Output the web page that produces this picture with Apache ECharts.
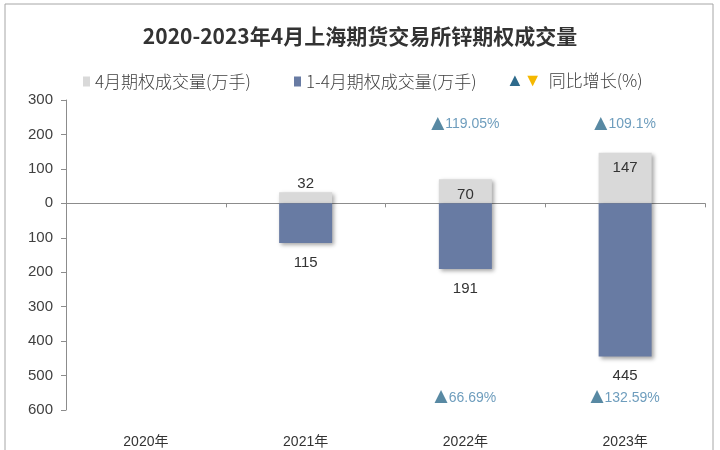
<!DOCTYPE html>
<html>
<head>
<meta charset="utf-8">
<script src="https://cdn.jsdelivr.net/npm/echarts@6/dist/echarts.min.js"></script>
<style>
  html, body { margin: 0; padding: 0; background: #fff; }
  #chart { width: 720px; height: 450px; }
</style>
</head>
<body>
<div id="chart"></div>
<script>
// 数据
const years = ["2020年", "2021年", "2022年", "2023年"];
const aprVolume = [null, 32, 70, 147];        // 4月期权成交量(万手)
const ytdVolume = [null, 115, 191, 445];      // 1-4月期权成交量(万手)
const aprGrowth = [null, null, 119.05, 109.1]; // 4月同比增长(%)
const ytdGrowth = [null, null, 66.69, 132.59]; // 1-4月同比增长(%)

const fontFamily = "Liberation Sans, Arial, Noto Sans CJK SC, sans-serif";
const growthRich = {
  t: { color: "#2e6b8c", fontSize: 17, fontFamily: "DejaVu Sans", padding: [0, 1, 2, 0] },
  v: { color: "#4a84ad", fontSize: 14, fontFamily: fontFamily },
};
const legendText = {
  fontSize: 17,
  color: "#404040",
  fontFamily: "Noto Sans CJK SC",
  fontWeight: 300,
};

const chart = echarts.init(document.getElementById("chart"));
chart.setOption({
  backgroundColor: "#fff",
  animation: false,
  textStyle: { fontFamily: fontFamily },
  graphic: [
    {
      type: "rect",
      shape: { x: 5, y: 4, width: 708, height: 460 },
      style: { fill: "none", stroke: "#a6a6a6", lineWidth: 1 },
      silent: true,
    },
  ],
  title: {
    text: "2020-2023年4月上海期货交易所锌期权成交量",
    left: "center",
    top: 21,
    textStyle: {
      fontSize: 21,
      fontWeight: "bold",
      color: "#333",
      fontFamily: "Noto Sans CJK SC",
    },
  },
  legend: [
    {
      top: 68,
      left: 78,
      itemWidth: 7,
      itemHeight: 10,
      icon: "rect",
      textStyle: legendText,
      data: ["4月期权成交量(万手)"],
    },
    {
      top: 68,
      left: 289,
      itemWidth: 7,
      itemHeight: 10,
      icon: "rect",
      textStyle: legendText,
      data: ["1-4月期权成交量(万手)"],
    },
    {
      top: 67,
      left: 496,
      itemWidth: 0,
      itemHeight: 0,
      textStyle: {
        fontSize: 17,
        color: "#404040",
        fontFamily: "Noto Sans CJK SC",
        fontWeight: 300,
        rich: {
          u: { color: "#2e6b8c", fontSize: 18, fontFamily: "DejaVu Sans" },
          d: { color: "#f5b800", fontSize: 18, fontFamily: "DejaVu Sans" },
          n: { color: "#404040", fontSize: 17, fontFamily: "Noto Sans CJK SC", fontWeight: 300, padding: [0, 0, 0, 7] },
        },
      },
      formatter: (name) => "{u|▲}{d|▼}{n|" + name + "}",
      data: [{ name: "同比增长(%)", icon: "rect", itemStyle: { opacity: 0 } }],
    },
  ],
  grid: { left: 66, right: 15, top: 100, bottom: 40 },
  xAxis: [
    {
      type: "category",
      data: years,
      axisLine: { onZero: true, lineStyle: { color: "#8c8c8c" } },
      axisTick: { show: true, length: 4, lineStyle: { color: "#8c8c8c" } },
      axisLabel: { show: false },
    },
    {
      type: "category",
      data: years,
      position: "bottom",
      axisLine: { show: false, onZero: false },
      axisTick: { show: false },
      axisLabel: { margin: 25, fontSize: 14, color: "#333" },
    },
  ],
  yAxis: {
    type: "value",
    min: -600,
    max: 300,
    interval: 100,
    splitLine: { show: false },
    axisLine: { show: true, lineStyle: { color: "#8c8c8c" } },
    axisTick: { show: true, length: 5, lineStyle: { color: "#8c8c8c" } },
    axisLabel: {
      fontSize: 15,
      color: "#404040",
      margin: 13,
      formatter: (v) => Math.abs(v),
    },
  },
  series: [
    {
      name: "4月期权成交量(万手)",
      type: "bar",
      stack: "vol",
      barWidth: 53,
      data: aprVolume.map((v) =>
        v === null ? null : { value: v, label: { position: v < 50 ? "top" : "insideTop", distance: v < 50 ? 1 : 8 } }
      ),
      itemStyle: {
        color: "#d9d9d9",
        shadowColor: "rgba(0,0,0,0.35)",
        shadowBlur: 4,
        shadowOffsetX: 2,
        shadowOffsetY: 2,
      },
      label: { show: true, fontSize: 15, color: "#333" },
    },
    {
      name: "1-4月期权成交量(万手)",
      type: "bar",
      stack: "vol",
      barWidth: 53,
      data: ytdVolume.map((v) => (v === null ? null : -v)),
      itemStyle: {
        color: "#687ba3",
        shadowColor: "rgba(0,0,0,0.35)",
        shadowBlur: 4,
        shadowOffsetX: 2,
        shadowOffsetY: 2,
      },
      label: {
        show: true,
        position: "bottom",
        distance: 12,
        fontSize: 15,
        color: "#333",
        formatter: (p) => Math.abs(p.value),
      },
    },
    {
      name: "同比增长(%)",
      type: "scatter",
      symbolSize: 0,
      itemStyle: { color: "#2e6b8c" },
      data: aprGrowth.map((g) => (g === null ? null : 230)),
      label: {
        show: true,
        position: "inside",
        formatter: (p) => "{t|▲}{v|" + aprGrowth[p.dataIndex] + "%}",
        rich: growthRich,
      },
    },
    {
      name: "同比增长(%)",
      type: "scatter",
      symbolSize: 0,
      itemStyle: { color: "#2e6b8c" },
      data: ytdGrowth.map((g) => (g === null ? null : -565)),
      label: {
        show: true,
        position: "inside",
        formatter: (p) => "{t|▲}{v|" + ytdGrowth[p.dataIndex] + "%}",
        rich: growthRich,
      },
    },
  ],
});
</script>
</body>
</html>
